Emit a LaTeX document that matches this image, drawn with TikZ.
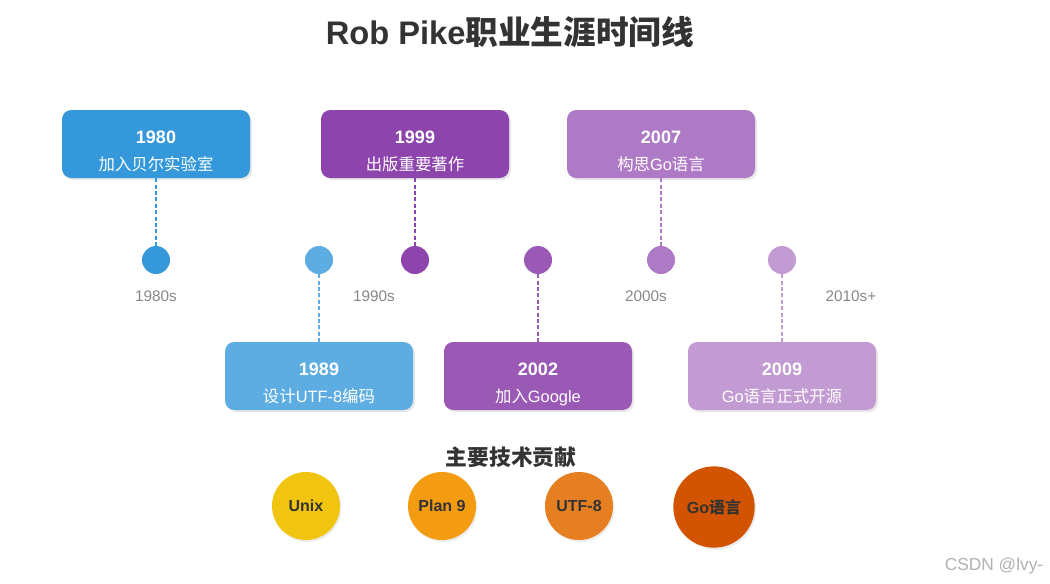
\documentclass[tikz,border=0pt]{standalone}
\usepackage{fontspec}
\setmainfont{Noto Sans CJK SC}
\newfontfamily\lat{Liberation Sans}
\usetikzlibrary{shadows}
\definecolor{cA}{HTML}{3498DB}
\definecolor{cB}{HTML}{5DADE2}
\definecolor{cC}{HTML}{8E44AD}
\definecolor{cD}{HTML}{9B59B6}
\definecolor{cE}{HTML}{AF7AC5}
\definecolor{cF}{HTML}{C39BD3}
\definecolor{yU}{HTML}{F1C40F}
\definecolor{yP}{HTML}{F39C12}
\definecolor{yT}{HTML}{E67E22}
\definecolor{yG}{HTML}{D35400}
\definecolor{txt}{HTML}{333333}
\definecolor{grey}{HTML}{888888}
\tikzset{
  evbox/.style={rounded corners=7pt, minimum width=141pt, minimum height=51pt, inner sep=0pt,
    drop shadow={shadow xshift=1.5pt, shadow yshift=-1.5pt, opacity=0.18}},
  yeartext/.style={text=white, inner sep=0pt, anchor=base, font=\lat\bfseries\fontsize{13.5pt}{16pt}\selectfont},
  subtext/.style={text=white, inner sep=0pt, anchor=base, font=\fontsize{12.3pt}{14pt}\selectfont},
  dot/.style={circle, minimum size=21pt, inner sep=0pt},
  conn/.style={line width=1.3pt, dash pattern=on 3pt off 1.8pt},
  decade/.style={text=grey, font=\lat\fontsize{11.5pt}{13pt}\selectfont},
  contrib/.style={circle, inner sep=0pt, text=txt, font=\bfseries\fontsize{12pt}{14pt}\selectfont,
    drop shadow={shadow xshift=1pt, shadow yshift=-1.5pt, opacity=0.15}},
}
\newcommand{\eventbox}[5]{%
  \node[evbox, fill=#3] (b#1) at (#2) {};
  \node[yeartext] (y#1) at ([yshift=0.4pt]b#1.center) {#4};
  \node[subtext] (s#1) at ([yshift=-19.5pt]b#1.center) {#5};
}
\begin{document}
\begin{tikzpicture}[x=0.75pt,y=-0.75pt]
\useasboundingbox[fill=white] (0,0) rectangle (1050,583);
\node[text=txt, font=\bfseries\fontsize{24.5pt}{29pt}\selectfont] (title) at (510,32) {{\lat Rob Pike}职业生涯时间线};
% boxes
\eventbox{1980}{156,144}{cA}{1980}{加入贝尔实验室}
\eventbox{1999}{415,144}{cC}{1999}{出版重要著作}
\eventbox{2007}{661,144}{cE}{2007}{构思{\lat Go}语言}
\eventbox{1989}{319,376}{cB}{1989}{设计{\lat UTF-8}编码}
\eventbox{2002}{538,376}{cD}{2002}{加入{\lat Google}}
\eventbox{2009}{782,376}{cF}{2009}{{\lat Go}语言正式开源}
% dots
\node[dot, fill=cA] (d1980) at (156,260) {};
\node[dot, fill=cB] (d1989) at (319,260) {};
\node[dot, fill=cC] (d1999) at (415,260) {};
\node[dot, fill=cD] (d2002) at (538,260) {};
\node[dot, fill=cE] (d2007) at (661,260) {};
\node[dot, fill=cF] (d2009) at (782,260) {};
% connectors
\draw[conn, cA] (b1980.south) -- (d1980.north);
\draw[conn, cC] (b1999.south) -- (d1999.north);
\draw[conn, cE] (b2007.south) -- (d2007.north);
\draw[conn, cB] (d1989.south) -- (b1989.north);
\draw[conn, cD] (d2002.south) -- (b2002.north);
\draw[conn, cF] (d2009.south) -- (b2009.north);
% decades
\node[decade] (l1980) at (156,296) {1980s};
\node[decade] (l1990) at (374,296) {1990s};
\node[decade] (l2000) at (646,296) {2000s};
\node[decade] (l2010) at (851,296) {2010s+};
% contributions
\node[text=txt, font=\bfseries\fontsize{16.3pt}{19pt}\selectfont] (ctitle) at (511,457) {主要技术贡献};
\node[contrib, fill=yU, minimum size=51pt] (unix) at (306,506) {\lat Unix};
\node[contrib, fill=yP, minimum size=51pt] (plan9) at (442,506) {\lat Plan 9};
\node[contrib, fill=yT, minimum size=51pt] (utf8) at (579,506) {\lat UTF-8};
\node[contrib, fill=yG, minimum size=61pt] (golang) at (714,507) {{\lat Go}语言};
\node[text=black!30, font=\lat\fontsize{13pt}{15pt}\selectfont] (wm) at (994,566) {CSDN @lvy-};
\end{tikzpicture}
\end{document}
